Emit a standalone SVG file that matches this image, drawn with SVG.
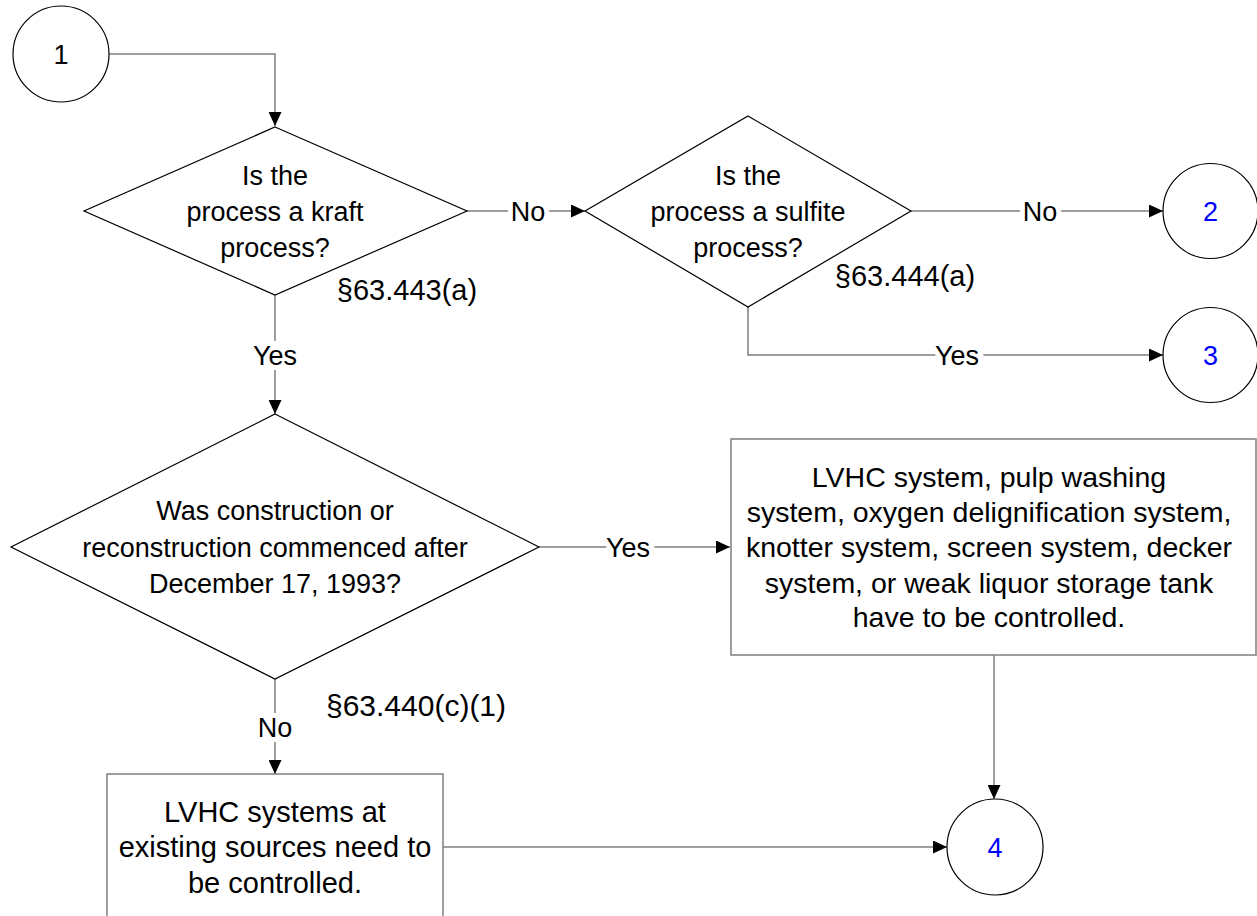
<svg xmlns="http://www.w3.org/2000/svg" width="1257" height="916" viewBox="0 0 1257 916">
<style>
text{font-family:"Liberation Sans",Arial,sans-serif;font-size:27px;fill:#000;text-anchor:middle}
.num{fill:#0000ff}
.big{font-size:28.5px}
.big2{font-size:29px}
.ref{font-size:29px}
.shape{fill:#fff;stroke:#000;stroke-width:1.2}
.box{fill:#fff;stroke:#7f7f7f;stroke-width:1.5}
.conn{fill:none;stroke:#7f7f7f;stroke-width:1.5}
.lbl{stroke:#fff;stroke-width:10;paint-order:stroke}
</style>
<defs>
<marker id="arr" viewBox="0 0 14 13" refX="14" refY="6.5" markerWidth="14" markerHeight="13" markerUnits="userSpaceOnUse" orient="auto">
<path d="M0,0 L14,6.5 L0,13 Z" fill="#000"/>
</marker>
</defs>
<rect width="1257" height="916" fill="#fff"/>
<g id="connectors">
<path class="conn" d="M109,54 H275 V126" marker-end="url(#arr)"/>
<path class="conn" d="M467,211 H585" marker-end="url(#arr)"/>
<text class="lbl" x="528" y="221">No</text>
<path class="conn" d="M911,211 H1163" marker-end="url(#arr)"/>
<text class="lbl" x="1040" y="221">No</text>
<path class="conn" d="M748,307 V355 H1163" marker-end="url(#arr)"/>
<text class="lbl" x="957" y="365">Yes</text>
<path class="conn" d="M275,295 V414" marker-end="url(#arr)"/>
<text class="lbl" x="275" y="365">Yes</text>
<path class="conn" d="M539,547 H730" marker-end="url(#arr)"/>
<text class="lbl" x="628" y="557">Yes</text>
<path class="conn" d="M275,679 V774" marker-end="url(#arr)"/>
<text class="lbl" x="275" y="737">No</text>
<path class="conn" d="M994,655 V799" marker-end="url(#arr)"/>
<path class="conn" d="M443,847 H947" marker-end="url(#arr)"/>
</g>
<g id="start1">
<circle class="shape" cx="61" cy="54" r="48"/>
<text x="61" y="64">1</text>
</g>
<g id="kraft">
<polygon class="shape" points="275,127 467,211 275,295 84,211"/>
<text x="275" y="185">Is the</text>
<text x="275" y="221">process a kraft</text>
<text x="275" y="257">process?</text>
<text class="ref" x="407" y="300">§63.443(a)</text>
</g>
<g id="sulfite">
<polygon class="shape" points="748,116 911,211 748,307 585,211"/>
<text x="748" y="185">Is the</text>
<text x="748" y="221">process a sulfite</text>
<text x="748" y="257">process?</text>
<text class="ref" x="905" y="286">§63.444(a)</text>
</g>
<g id="c2">
<circle class="shape" cx="1210.5" cy="211" r="47.5"/>
<text class="num" x="1210.5" y="221">2</text>
</g>
<g id="c3">
<circle class="shape" cx="1210.5" cy="355" r="47.5"/>
<text class="num" x="1210.5" y="365">3</text>
</g>
<g id="construction">
<polygon class="shape" points="275,414 539,547 275,679 11,547"/>
<text x="275" y="520">Was construction or</text>
<text x="275" y="557">reconstruction commenced after</text>
<text x="275" y="593">December 17, 1993?</text>
<text class="ref" x="416" y="716" style="font-size:30px">§63.440(c)(1)</text>
</g>
<g id="newsources">
<rect class="box" x="731" y="439" width="525" height="216"/>
<text class="big" x="989" y="487">LVHC system, pulp washing</text>
<text class="big" x="989" y="522">system, oxygen delignification system,</text>
<text class="big" x="989" y="557">knotter system, screen system, decker</text>
<text class="big" x="989" y="593">system, or weak liquor storage tank</text>
<text class="big" x="989" y="627">have to be controlled.</text>
</g>
<g id="existing">
<rect class="box" x="107" y="774" width="336" height="160"/>
<text class="big2" x="275" y="822">LVHC systems at</text>
<text class="big2" x="275" y="857">existing sources need to</text>
<text class="big2" x="275" y="893">be controlled.</text>
</g>
<g id="c4">
<circle class="shape" cx="995" cy="847" r="48"/>
<text class="num" x="995" y="857">4</text>
</g>
</svg>
